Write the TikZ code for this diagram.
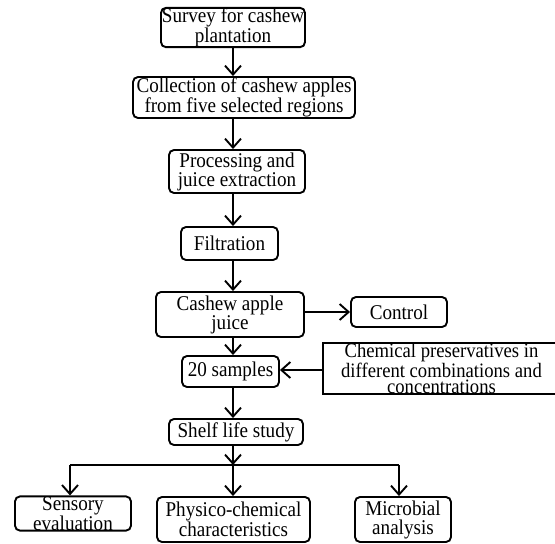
\documentclass[tikz,border=0pt]{standalone}
\usepackage{fontspec}
\setmainfont{Liberation Serif}[FakeStretch=0.91]
\usetikzlibrary{arrows.meta}
\tikzset{
  box/.style={draw, rounded corners=5pt, line width=1.9pt, inner sep=0pt, align=center,
    font=\fontsize{21}{19}\selectfont},
  plainbox/.style={draw, line width=1.5pt, inner sep=0pt, align=center,
    font=\fontsize{20.5}{16}\selectfont},
  arr/.style={line width=1.9pt, -{Straight Barb[length=9pt,width=16pt,line width=1.9pt]}},
  ln/.style={line width=1.9pt}
}
\begin{document}
\begin{tikzpicture}[x=1pt,y=-1pt]
\useasboundingbox (0,0) rectangle (555,544);
\coordinate (m) at (233,0);
\node[box, minimum width=144pt, minimum height=39pt] (s1) at (233,27.5) {Survey for cashew\\plantation};
\node[box, minimum width=222pt, minimum height=41pt] (s2) at (244,97.5) {Collection of cashew apples\\from five selected regions};
\node[box, minimum width=136pt, minimum height=43pt] (s3) at (237,171.5) {Processing and\\juice extraction};
\node[box, minimum width=97pt, minimum height=33pt] (s4) at (229.5,243.5) {Filtration};
\node[box, minimum width=148pt, minimum height=45pt] (s5) at (230,314.5) {Cashew apple\\juice};
\node[box, minimum width=96pt, minimum height=30pt] (ctl) at (399,312) {Control};
\node[box, minimum width=97pt, minimum height=31pt] (s6) at (230.5,371.5) {20 samples};
\node[plainbox, minimum width=237pt, minimum height=51pt] (chem) at (441.5,368.5) {Chemical preservatives in\\different combinations and\\concentrations};
\node[box, minimum width=134pt, minimum height=26pt] (s7) at (236,432) {Shelf life study};
\node[box, minimum width=116pt, minimum height=33pt, font=\fontsize{21}{15}\selectfont] (b1) at (73,513.5) {Sensory\\evaluation};
\node[box, minimum width=153pt, minimum height=45pt] (b2) at (233.5,519.5) {Physico-chemical\\characteristics};
\node[box, minimum width=96pt, minimum height=45pt] (b3) at (403,519.5) {Microbial\\analysis};
\coordinate (j) at (233,465);
\coordinate (jl) at (70,465);
\coordinate (jr) at (399,465);
\draw[arr] (s1.south -| m) -- (s2.north -| m);
\draw[arr] (s2.south -| m) -- (s3.north -| m);
\draw[arr] (s3.south -| m) -- (s4.north -| m);
\draw[arr] (s4.south -| m) -- (s5.north -| m);
\draw[arr] (s5.south -| m) -- (s6.north -| m);
\draw[arr] (s6.south -| m) -- (s7.north -| m);
\draw[arr] (s7.south -| m) -- (j);
\draw[arr] (s5.east |- ctl) -- (ctl.west);
\draw[arr] (chem.west |- 0,370) -- (s6.east |- 0,370);
\draw[ln] (jl) -- (jr);
\draw[arr] (jl) -- (jl |- b1.north);
\draw[arr] (j) -- (j |- b2.north);
\draw[arr] (jr) -- (jr |- b3.north);
\end{tikzpicture}
\end{document}
